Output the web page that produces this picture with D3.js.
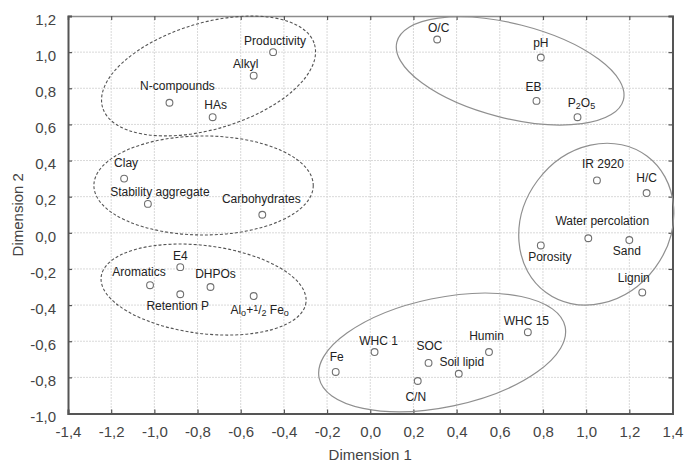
<!DOCTYPE html>
<html>
<head>
<meta charset="utf-8">
<script src="https://cdn.jsdelivr.net/npm/d3@7/dist/d3.min.js"></script>
<style>
  html, body { margin: 0; padding: 0; background: #fff; }
  svg { display: block; font-family: "Liberation Sans", Arial, sans-serif; }
</style>
</head>
<body>
<svg id="chart" width="684" height="464"></svg>
<script>
// Variable loadings on the first two dimensions
const variables = [
  "Productivity", "Alkyl", "N-compounds", "HAs",
  "Clay", "Stability aggregate", "Carbohydrates",
  "E4", "Aromatics", "Retention P", "DHPOs", "Al",
  "O/C", "pH", "EB", "P2O5",
  "IR 2920", "H/C", "Water percolation", "Sand", "Porosity", "Lignin",
  "WHC 15", "Humin", "WHC 1", "SOC", "Soil lipid", "C/N", "Fe"
];
const dim1 = [
  -0.45, -0.54, -0.93, -0.73,
  -1.14, -1.03, -0.50,
  -0.88, -1.02, -0.88, -0.74, -0.54,
  0.31, 0.79, 0.77, 0.96,
  1.05, 1.28, 1.01, 1.20, 0.79, 1.26,
  0.73, 0.55, 0.02, 0.27, 0.41, 0.22, -0.16
];
const dim2 = [
  1.00, 0.87, 0.72, 0.64,
  0.30, 0.16, 0.10,
  -0.19, -0.29, -0.34, -0.30, -0.35,
  1.07, 0.97, 0.73, 0.64,
  0.29, 0.22, -0.03, -0.04, -0.07, -0.33,
  -0.55, -0.66, -0.66, -0.72, -0.78, -0.82, -0.77
];

// Axis ticks
const xTicks = [-1.4, -1.2, -1.0, -0.8, -0.6, -0.4, -0.2, 0.0, 0.2, 0.4, 0.6, 0.8, 1.0, 1.2, 1.4];
const yTicks = [-1.0, -0.8, -0.6, -0.4, -0.2, 0.0, 0.2, 0.4, 0.6, 0.8, 1.0, 1.2];

// Groupings of variables (centre in data units, semi-axes in axis units, tilt in degrees)
const groupCx    = [-0.749, -0.772, -0.772, 0.648, 1.047, 0.333];
const groupCy    = [0.868, 0.262, -0.314, 0.896, 0.048, -0.662];
const groupRx    = [0.512, 0.508, 0.478, 0.5415, 0.393, 0.582];
const groupRy    = [0.294, 0.274, 0.2435, 0.261, 0.405, 0.302];
const groupTilt  = [-16.6, 0, 7.2, 14.3, -53.4, -11.8];
const groupDashed = [true, true, true, false, false, false];

// Label placement relative to each marker (pixels: dx of text centre, dy of baseline)
const labelOffset = {
  "Productivity": [2, -7], "Alkyl": [-8, -8], "N-compounds": [8, -12.5], "HAs": [3, -8],
  "Clay": [2, -11.5], "Stability aggregate": [12, -8], "Carbohydrates": [-1, -11.5],
  "E4": [0, -7], "Aromatics": [-11, -9.5], "Retention P": [-2.5, 15.5], "DHPOs": [5, -9], "Al": [6, 18],
  "O/C": [1.5, -7], "pH": [0, -11], "EB": [-3, -10], "P2O5": [4, -10.5],
  "IR 2920": [6, -12], "H/C": [0, -11], "Water percolation": [14, -13], "Sand": [-2.5, 15],
  "Porosity": [9, 15.5], "Lignin": [-8.5, -10.5],
  "WHC 15": [-1.5, -7], "Humin": [-2.5, -12], "WHC 1": [4, -7], "SOC": [1, -13],
  "Soil lipid": [3, -7.5], "C/N": [-2, 20], "Fe": [1, -10.5]
};

const svg = d3.select("#chart");
const plotLeft = 68, plotRight = 672.5, plotTop = 16, plotBottom = 413.5;

const x = d3.scaleLinear().domain([-1.4, 1.4]).range([plotLeft, plotRight]);
const y = d3.scaleLinear().domain([-1.0, 1.2]).range([plotBottom, plotTop]);
const fmt = v => d3.format(".1f")(v).replace("\u2212", "-").replace(".", ",");

// Grid
const grid = svg.append("g").attr("stroke", "#d9d9d9").attr("stroke-width", 1)
  .attr("stroke-dasharray", "2,1");
grid.selectAll("line.v").data(xTicks.slice(1, -1)).join("line").attr("class", "v")
  .attr("x1", d => x(d)).attr("x2", d => x(d))
  .attr("y1", plotTop).attr("y2", plotBottom);
grid.selectAll("line.h").data(yTicks.slice(1, -1)).join("line").attr("class", "h")
  .attr("x1", plotLeft).attr("x2", plotRight)
  .attr("y1", d => y(d)).attr("y2", d => y(d));

// Axes with inward ticks
const axB = svg.append("g").attr("transform", `translate(0,${plotBottom})`)
  .call(d3.axisBottom(x).tickValues(xTicks).tickSize(-4).tickFormat(fmt).tickPadding(12));
const axT = svg.append("g").attr("transform", `translate(0,${plotTop})`)
  .call(d3.axisTop(x).tickValues(xTicks).tickSize(-4).tickFormat(""));
const axL = svg.append("g").attr("transform", `translate(${plotLeft},0)`)
  .call(d3.axisLeft(y).tickValues(yTicks).tickSize(-4).tickFormat(fmt).tickPadding(12));
const axR = svg.append("g").attr("transform", `translate(${plotRight},0)`)
  .call(d3.axisRight(y).tickValues(yTicks).tickSize(-4).tickFormat(""));
[[axB, "#555", 2], [axT, "#8c8c8c", 1.6], [axL, "#555", 2], [axR, "#555", 2]].forEach(([a, c, w]) => {
  a.select(".domain").attr("stroke", c).attr("stroke-width", w);
  a.selectAll(".tick line").attr("stroke", "#555").attr("stroke-width", 1.2);
  a.selectAll("text").attr("fill", "#444").style("font-size", "15px")
    .style("font-family", "'Liberation Sans', Arial, sans-serif");
});
axL.selectAll("text").attr("dy", "0.55em");
axB.selectAll("text").attr("dy", "0.75em");

// Group outlines
groupCx.forEach((cx, i) => {
  const px = x(cx), py = y(groupCy[i]);
  svg.append("ellipse")
    .attr("cx", px).attr("cy", py)
    .attr("rx", x(cx + groupRx[i]) - px)
    .attr("ry", py - y(groupCy[i] + groupRy[i]))
    .attr("transform", `rotate(${groupTilt[i]} ${px} ${py})`)
    .attr("fill", "none")
    .attr("stroke", groupDashed[i] ? "#555" : "#8f8f8f")
    .attr("stroke-width", groupDashed[i] ? 1.1 : 1.2)
    .attr("stroke-dasharray", groupDashed[i] ? "3,2" : null);
});

// Markers
const pts = variables.map((v, i) => ({ name: v, d1: dim1[i], d2: dim2[i] }));
svg.append("g").selectAll("circle").data(pts).join("circle")
  .attr("cx", d => x(d.d1)).attr("cy", d => y(d.d2)).attr("r", 3.4)
  .attr("fill", "#fff").attr("stroke", "#707070").attr("stroke-width", 1.1);

// Labels
const labels = svg.append("g").attr("font-size", 12).attr("fill", "#222")
  .attr("text-anchor", "middle");
pts.forEach(d => {
  const [dx, dy] = labelOffset[d.name];
  const t = labels.append("text").attr("x", x(d.d1) + dx).attr("y", y(d.d2) + dy);
  if (d.name === "P2O5") {
    t.append("tspan").text("P");
    t.append("tspan").attr("font-size", 9).attr("baseline-shift", "-25%").text("2");
    t.append("tspan").text("O");
    t.append("tspan").attr("font-size", 9).attr("baseline-shift", "-25%").text("5");
  } else if (d.name === "Al") {
    t.append("tspan").text("Al");
    t.append("tspan").attr("font-size", 9).attr("baseline-shift", "-25%").text("o");
    t.append("tspan").text("+");
    t.append("tspan").attr("font-size", 9).attr("baseline-shift", "35%").text("1");
    t.append("tspan").text("/");
    t.append("tspan").attr("font-size", 9).attr("baseline-shift", "-25%").text("2");
    t.append("tspan").text(" Fe");
    t.append("tspan").attr("font-size", 9).attr("baseline-shift", "-25%").text("o");
  } else {
    t.text(d.name);
  }
});

// Axis titles
svg.append("text").attr("x", (plotLeft + plotRight) / 2).attr("y", 460)
  .attr("text-anchor", "middle").attr("font-size", 15).attr("fill", "#444")
  .text("Dimension 1");
svg.append("text")
  .attr("transform", `translate(23,${(plotTop + plotBottom) / 2}) rotate(-90)`)
  .attr("text-anchor", "middle").attr("font-size", 15).attr("fill", "#444")
  .text("Dimension 2");
</script>
</body>
</html>
